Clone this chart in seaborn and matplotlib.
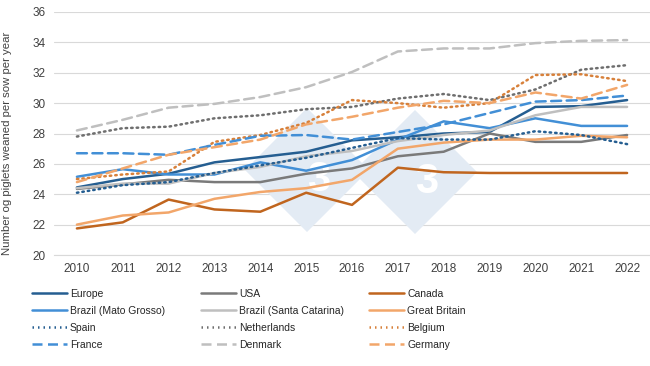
import matplotlib
matplotlib.use("Agg")
import matplotlib.pyplot as plt
from matplotlib.lines import Line2D
from matplotlib.patches import Polygon
import seaborn as sns
import pandas as pd

years = list(range(2010, 2023))

europe = [24.45, 25.0, 25.35, 26.1, 26.45, 26.8, 27.55, 27.75, 28.0, 28.1, 29.75, 29.8, 30.2]
usa = [24.35, 24.65, 24.95, 24.8, 24.8, 25.35, 25.7, 26.5, 26.8, 28.0, 27.45, 27.45, 27.9]
canada = [21.75, 22.15, 23.65, 23.0, 22.85, 24.1, 23.3, 25.75, 25.45, 25.4, 25.4, 25.4, 25.4]
brazil_mg = [25.15, 25.65, 25.3, 25.3, 26.1, 25.55, 26.25, 27.6, 28.8, 28.35, 29.0, 28.5, 28.5]
brazil_sc = [24.4, 24.7, 24.7, 25.4, 25.8, 26.5, 26.85, 27.5, 27.9, 28.2, 29.2, 29.75, 29.75]
great_britain = [22.0, 22.6, 22.8, 23.7, 24.15, 24.4, 24.95, 27.0, 27.4, 27.6, 27.6, 27.85, 27.75]
spain = [24.1, 24.6, 24.8, 25.4, 25.9, 26.4, 27.05, 27.7, 27.6, 27.6, 28.15, 27.9, 27.3]
netherlands = [27.8, 28.35, 28.45, 29.0, 29.2, 29.6, 29.75, 30.3, 30.6, 30.2, 30.9, 32.2, 32.5]
belgium = [25.0, 25.3, 25.5, 27.45, 27.9, 28.7, 30.2, 30.0, 29.7, 30.0, 31.85, 31.9, 31.45]
france = [26.7, 26.7, 26.6, 27.25, 27.85, 27.9, 27.6, 28.1, 28.6, 29.35, 30.1, 30.2, 30.5]
denmark = [28.2, 28.9, 29.7, 29.95, 30.4, 31.05, 32.05, 33.4, 33.6, 33.6, 33.95, 34.1, 34.15]
germany = [24.8, 25.7, 26.6, 27.1, 27.6, 28.6, 29.1, 29.7, 30.15, 30.0, 30.7, 30.3, 31.2]

series = {
    "Europe": europe,
    "USA": usa,
    "Canada": canada,
    "Brazil (Mato Grosso)": brazil_mg,
    "Brazil (Santa Catarina)": brazil_sc,
    "Great Britain": great_britain,
    "Spain": spain,
    "Netherlands": netherlands,
    "Belgium": belgium,
    "France": france,
    "Denmark": denmark,
    "Germany": germany,
}

colors = {
    "Europe": "#255E91",
    "USA": "#7A7A7A",
    "Canada": "#C0651E",
    "Brazil (Mato Grosso)": "#428FD6",
    "Brazil (Santa Catarina)": "#BFBFBF",
    "Great Britain": "#F2A66A",
    "Spain": "#255E91",
    "Netherlands": "#6E6E6E",
    "Belgium": "#D7803A",
    "France": "#428FD6",
    "Denmark": "#BFBFBF",
    "Germany": "#F2A66A",
}
dot = (0.6, 1.6)
dash = (4, 2.2)
dashes = {
    "Europe": "", "USA": "", "Canada": "",
    "Brazil (Mato Grosso)": "", "Brazil (Santa Catarina)": "", "Great Britain": "",
    "Spain": dot, "Netherlands": dot, "Belgium": dot,
    "France": dash, "Denmark": dash, "Germany": dash,
}

rows = []
for name, vals in series.items():
    for y, v in zip(years, vals):
        rows.append([y, v, name])
df = pd.DataFrame(rows, columns=["Year", "Value", "Country"])

sns.set_style("white")
plt.rcParams["font.family"] = ["Liberation Sans", "DejaVu Sans"]

fig = plt.figure(figsize=(6.5, 3.66), dpi=100)
ax = fig.add_axes([54 / 650, 1 - 255 / 366, 596 / 650, 243 / 366])

# faint watermark logo behind the lines
for cx, cy in [(307, 170), (415, 172)]:
    pts = [(cx, cy - 62), (cx + 62, cy), (cx, cy + 62), (cx - 62, cy)]
    ax.add_patch(Polygon([(px / 650, 1 - py / 366) for px, py in pts],
                         closed=True, transform=fig.transFigure, facecolor="#E3EBF4",
                         edgecolor="none", zorder=0.6, clip_on=False))
    ax.text((cx + 12) / 650, 1 - (cy + 10) / 366, "3", transform=fig.transFigure,
            fontsize=30, fontweight="bold", color="white", ha="center", va="center",
            zorder=0.7)

sns.lineplot(data=df, x="Year", y="Value", hue="Country", style="Country",
             palette=colors, dashes=dashes, linewidth=1.8, ax=ax, legend=False)
for ln in ax.lines:
    ln.set_dash_capstyle("round")

ax.set_xlim(2009.5, 2022.5)
ax.set_ylim(20, 36)
ax.set_xticks(years)
ax.set_yticks(range(20, 37, 2))
ax.tick_params(axis="both", length=0, labelsize=8.5, colors="#404040", pad=6)
ax.yaxis.grid(True, color="#D9D9D9", linewidth=0.8)
ax.set_axisbelow(True)
for s in ["top", "right", "left"]:
    ax.spines[s].set_visible(False)
ax.spines["bottom"].set_color("#D9D9D9")
ax.set_xlabel("")
ax.set_ylabel("Number og piglets weaned per sow per year", fontsize=8.2, color="#404040")
ax.yaxis.set_label_coords(-42 / 596, 0.46)

columns = [
    ["Europe", "Brazil (Mato Grosso)", "Spain", "France"],
    ["USA", "Brazil (Santa Catarina)", "Netherlands", "Denmark"],
    ["Canada", "Great Britain", "Belgium", "Germany"],
]
col_x = [32, 201, 369]
for names, x0 in zip(columns, col_x):
    handles = []
    for name in names:
        h = Line2D([], [], color=colors[name], linewidth=1.8)
        if dashes[name] != "":
            h.set_dashes(dashes[name])
        handles.append(h)
    leg = fig.legend(handles, names, loc="upper left",
                     bbox_to_anchor=(x0 / 650, 1 - 289 / 366), frameon=False,
                     fontsize=7.5, handlelength=3.4, handletextpad=0.25,
                     labelspacing=0.66, borderaxespad=0, borderpad=0)
    for t in leg.get_texts():
        t.set_color("#262626")

fig.savefig("out.png", dpi=100)
